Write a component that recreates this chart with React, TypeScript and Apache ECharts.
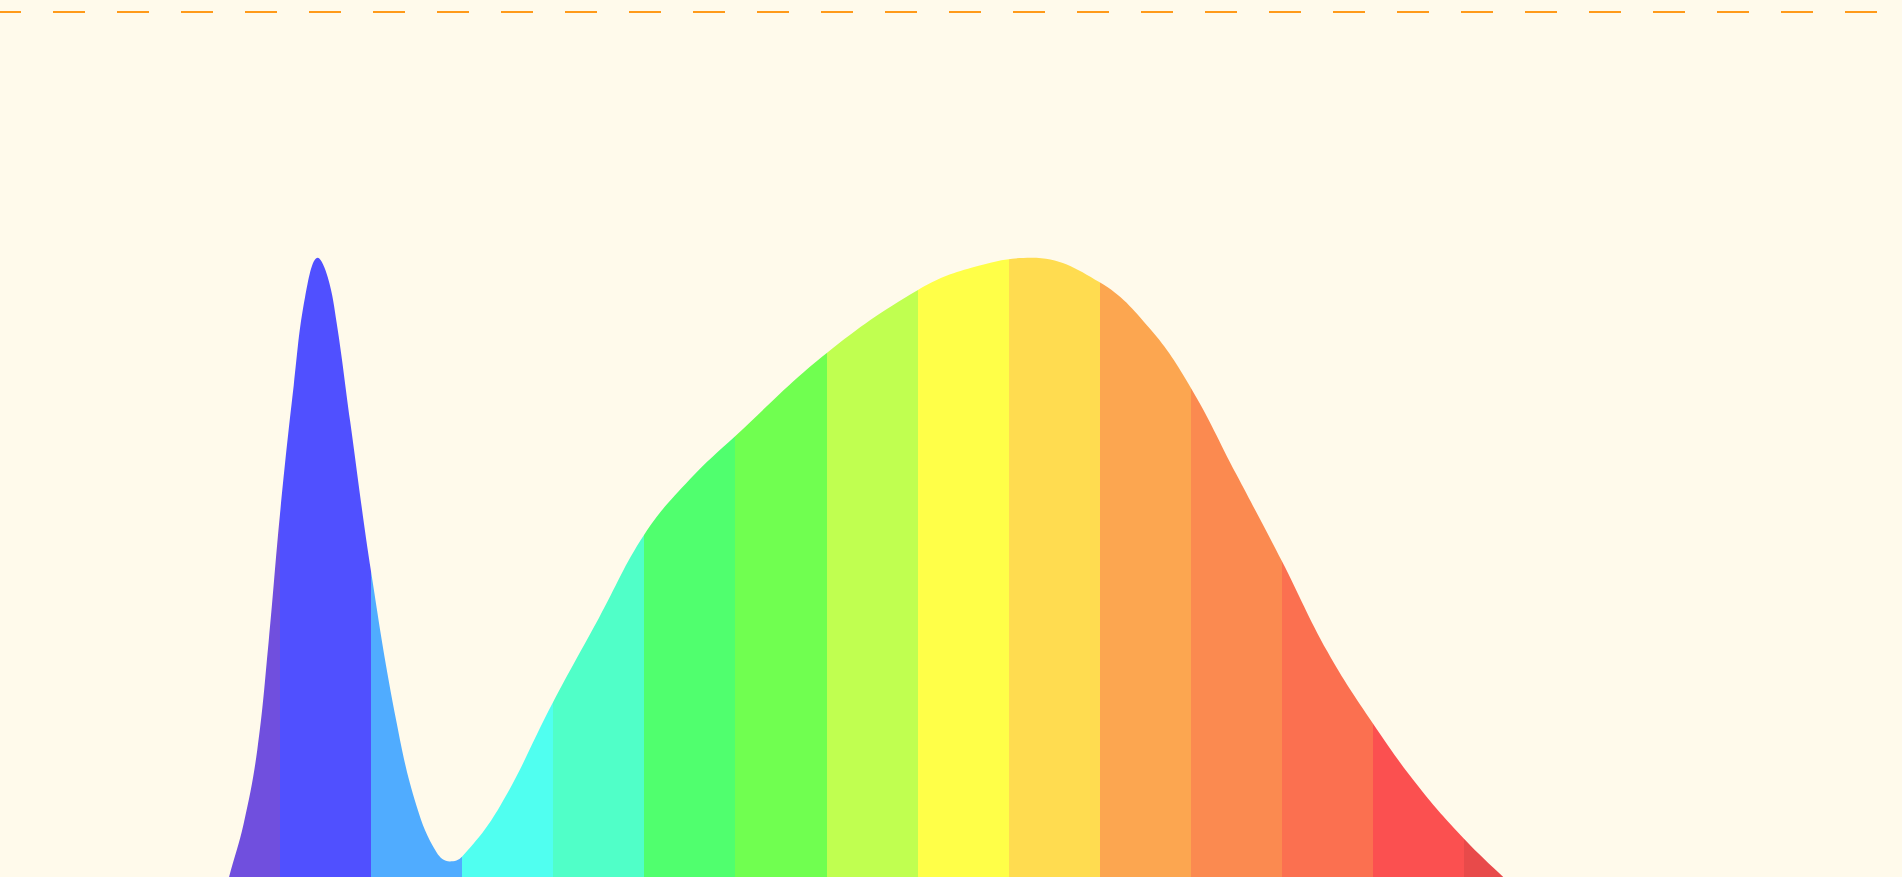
import React, { useEffect, useRef } from "react";
import * as echarts from "echarts";

// Wavelength (nm) and relative intensity
const wavelengths = [
  380, 395, 405, 415, 422, 428.8, 432, 435, 437.5, 440, 443, 445.5, 448.3,
  450.5, 452.5, 455.4, 460, 465.6, 470, 474.4, 477.3, 480, 488.3, 500, 510, 520,
  530, 540, 560, 580, 592, 605, 620, 631, 640, 650, 660, 670, 680, 690, 700, 710,
  720, 740, 760, 780,
];
const intensities = [
  0.0, 0.03, 0.07, 0.14, 0.25, 0.371, 0.425, 0.5, 0.61, 0.74, 0.87, 0.96, 1.0,
  0.98, 0.932, 0.834, 0.681, 0.528, 0.443, 0.396, 0.387, 0.392, 0.443, 0.549,
  0.634, 0.719, 0.775, 0.819, 0.903, 0.967, 0.99, 1.0, 0.975, 0.928, 0.868, 0.78,
  0.692, 0.6, 0.527, 0.463, 0.41, 0.365, 0.32, 0.23, 0.14, 0.06,
];

// Spectrum bands (nm boundaries) and their colours
const bandEdges = [440, 460, 480, 500, 520, 540, 560, 580, 600, 620, 640, 660, 680, 700];
const bandColors = [
  "#704fde", "#5050ff", "#50acff", "#50fff0", "#50ffc8", "#50ff6e", "#70ff50",
  "#c0ff50", "#ffff48", "#ffdc50", "#fca650", "#fb8a50", "#fb7050", "#fb5050",
  "#e84a4a",
];

const xMin = 380;
const xMax = 780;
const yMax = 1.25;

export default function App() {
  const ref = useRef<HTMLDivElement>(null);

  useEffect(() => {
    if (!ref.current) return;
    const chart = echarts.init(ref.current, undefined, { renderer: "svg" });

    const pieces: any[] = [];
    for (let i = 0; i < bandColors.length; i++) {
      const p: any = { color: bandColors[i] };
      if (i > 0) p.gte = bandEdges[i - 1];
      if (i < bandEdges.length) p.lt = bandEdges[i];
      pieces.push(p);
    }

    const data = wavelengths.map((w, i) => [w, intensities[i]]);

    chart.setOption({
      animation: false,
      backgroundColor: "#fffaeb",
      grid: {
        left: 6.8,
        right: 73.7,
        top: 11.5,
        height: 1231,
        outerBoundsMode: "none",
        containLabel: false,
      },
      xAxis: { type: "value", min: xMin, max: xMax, show: false },
      yAxis: { type: "value", min: 0, max: yMax, show: false, splitLine: { show: false } },
      visualMap: {
        type: "piecewise",
        show: false,
        dimension: 0,
        seriesIndex: 0,
        pieces,
      },
      graphic: [
        {
          type: "line",
          shape: { x1: -11, y1: 12, x2: 1920, y2: 12 },
          style: { stroke: "#ff9a1a", lineWidth: 2, lineDash: [32, 32] },
          silent: true,
        },
      ],
      series: [
        {
          type: "line",
          data,
          smooth: 0.4,
          symbol: "none",
          lineStyle: { width: 0 },
          areaStyle: { opacity: 1 },
        },
      ],
    });

    return () => chart.dispose();
  }, []);

  return (
    <div
      ref={ref}
      style={{ position: "fixed", left: 0, top: 0, width: "100vw", height: "100vh" }}
    />
  );
}
